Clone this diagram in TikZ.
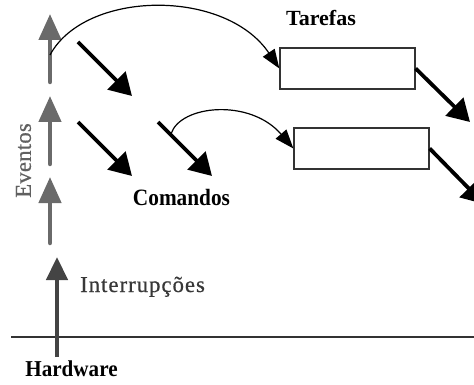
\documentclass[tikz,border=0pt]{standalone}
\usepackage{fontspec}
\setmainfont{Liberation Serif}
\usetikzlibrary{arrows.meta}
\definecolor{evgray}{HTML}{6A6A6A}
\definecolor{evtext}{HTML}{606060}
\definecolor{hwgray}{HTML}{444444}
\definecolor{irqtext}{HTML}{383838}
\definecolor{boxline}{HTML}{333333}
\begin{document}
\begin{tikzpicture}[x=1pt,y=-1pt,
  evarrow/.style={draw=evgray, line width=4.5pt, line cap=round,
    -{Triangle[length=26pt,width=22pt]}},
  hwarrow/.style={draw=hwgray, line width=4.5pt,
    -{Triangle[length=23pt,width=21pt]}},
  cmdarrow/.style={draw=black, line width=3.8pt,
    -{Triangle[length=22pt,width=25pt]}},
  callarrow/.style={draw=black, line width=1.2pt,
    -{Triangle[length=19pt,width=14pt]}},
  taskbox/.style={draw=boxline, line width=1.3pt, fill=white,
    minimum width=135pt, minimum height=41pt, inner sep=0pt},
  boldlabel/.style={inner sep=0pt, anchor=base,
    font=\fontsize{#1}{26}\selectfont\bfseries},
  graylabel/.style={inner sep=0pt,
    font=\fontsize{22.7}{26}\selectfont\addfontfeatures{LetterSpace=#1,FakeBold=0.6}}
]
\useasboundingbox (0,0) rectangle (474,385);

% event arrows climbing the stack
\coordinate (ev1s) at (50,82);  \coordinate (ev1t) at (50,14);
\coordinate (ev2s) at (50,164); \coordinate (ev2t) at (50,96);
\coordinate (ev3s) at (50,243); \coordinate (ev3t) at (50,177);
\draw[evarrow] (ev1s) -- (ev1t);
\draw[evarrow] (ev2s) -- (ev2t);
\draw[evarrow] (ev3s) -- (ev3t);

% hardware boundary and interrupt
\coordinate (hwl) at (11,337);
\coordinate (hwr) at (476,337);
\draw[draw=boxline, line width=1.5pt] (hwl) -- (hwr);
\coordinate (irqs) at (57,357); \coordinate (irqt) at (57,257);
\draw[hwarrow] (irqs) -- (irqt);

% tasks
\node[taskbox] (task1) at (347.5,68.5) {};
\node[taskbox] (task2) at (361.5,148.5) {};

% commands
\coordinate (c1s) at (78,42);   \coordinate (c1t) at (132,96);
\coordinate (c2s) at (78,122);  \coordinate (c2t) at (132,176);
\coordinate (c3s) at (158,122); \coordinate (c3t) at (212,176);
\draw[cmdarrow] (c1s) -- (c1t);
\draw[cmdarrow] (c2s) -- (c2t);
\draw[cmdarrow] (c3s) -- (c3t);
\coordinate (t1t) at (470,122);
\coordinate (t2t) at (484,204);
\draw[cmdarrow] (task1.east) -- (t1t);
\draw[cmdarrow] (task2.east) -- (t2t);

% posting tasks
\coordinate (post1) at (50,55);
\coordinate (post2) at (171,134);
\draw[callarrow] (post1) .. controls (85,-10) and (225,-12) .. (task1.west);
\draw[callarrow] (post2) .. controls (180,105) and (250,98) .. (task2.west);

% labels
\node[boldlabel=21.6] (tarefas) at (321,26)
  {\addfontfeatures{FakeStretch=1.02}Tarefas};
\node[boldlabel=23.4] (comandos) at (181.5,205.5)
  {\addfontfeatures{FakeStretch=0.91}Comandos};
\node[boldlabel=22.7] (hardware) at (71.5,376.5)
  {\addfontfeatures{FakeStretch=0.93}Hardware};
\node[graylabel=4.5, text=irqtext, anchor=base west] (interr) at (80,292) {Interrupções};
\node[graylabel=1, text=evtext, rotate=90] (eventos) at (23.5,160.5) {Eventos};
\end{tikzpicture}
\end{document}
